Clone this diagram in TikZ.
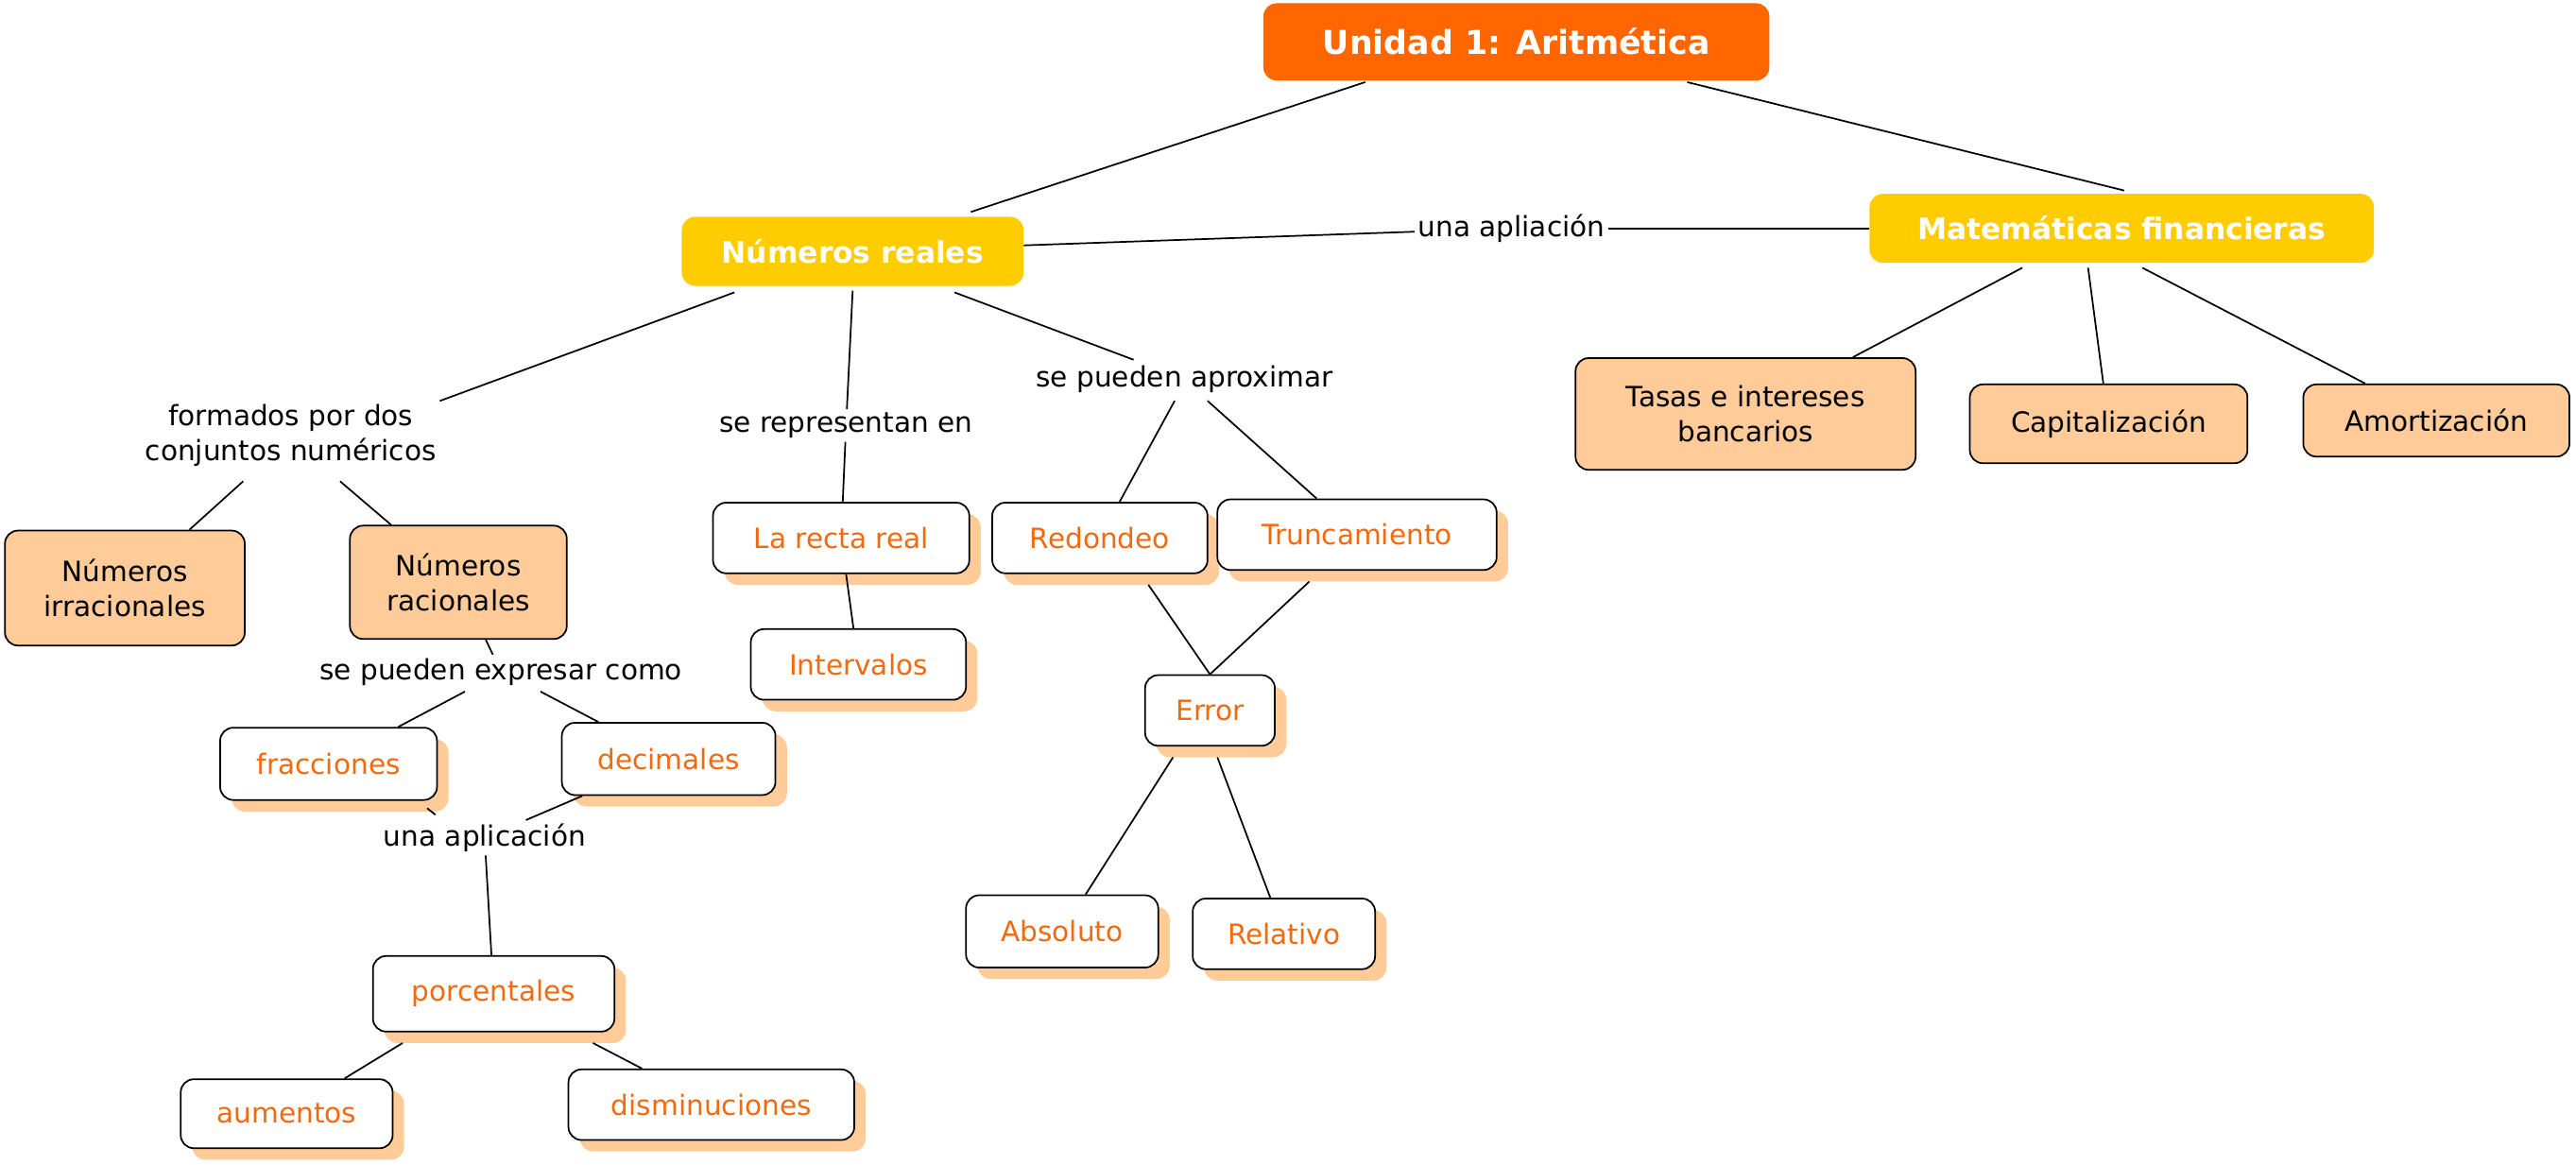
\documentclass[tikz,border=0pt]{standalone}
\usepackage{fontspec}
\setmainfont{DejaVu Sans}
\usetikzlibrary{shadows}
\definecolor{orng}{HTML}{FF6600}
\definecolor{gold}{HTML}{FFCC00}
\definecolor{peach}{HTML}{FFCC99}
\definecolor{otext}{HTML}{F26A0F}
\begin{document}
\begin{tikzpicture}[x=1pt,y=-1pt,font=\fontsize{17}{21}\selectfont,
 box/.style={rounded corners=8pt,align=center,inner sep=0pt},
 top/.style={box,fill=orng,text=white,font=\fontsize{20}{24}\selectfont\bfseries},
 yel/.style={box,fill=gold,text=white,font=\fontsize{18}{22}\selectfont\bfseries},
 pch/.style={box,fill=peach,draw=black,line width=1pt},
 wht/.style={box,fill=white,draw=black,line width=1pt,text=otext,
   drop shadow={shadow xshift=7pt,shadow yshift=-7pt,fill=peach,opacity=1}},
 lab/.style={fill=white,inner sep=2pt,align=center},
 ln/.style={line width=1pt}]
\useasboundingbox (0,0) rectangle (1568,709);
\node[top,minimum width=308,minimum height=47] (u) at (923,25.5) {Unidad 1: Aritmética};
\node[yel,minimum width=208,minimum height=42] (nr) at (519,153) {Números reales};
\node[yel,minimum width=307,minimum height=42] (mf) at (1291.5,139) {Matemáticas financieras};
\node[pch,minimum width=207,minimum height=68] (ta) at (1062.5,252) {Tasas e intereses\\bancarios};
\node[pch,minimum width=169,minimum height=48] (ca) at (1283.5,258) {Capitalización};
\node[pch,minimum width=162,minimum height=44] (am) at (1483,256) {Amortización};
\node[pch,minimum width=146,minimum height=70] (ir) at (76,358) {Números\\irracionales};
\node[pch,minimum width=132,minimum height=69] (ra) at (279,354.5) {Números\\racionales};
\node[wht,minimum width=156,minimum height=43] (rr) at (512,327.5) {La recta real};
\node[wht,minimum width=131,minimum height=43] (iv) at (522.5,404.5) {Intervalos};
\node[wht,minimum width=131,minimum height=43] (re) at (669.5,327.5) {Redondeo};
\node[wht,minimum width=170,minimum height=43] (tr) at (826,325.5) {Truncamiento};
\node[wht,minimum width=79,minimum height=43] (er) at (736.5,432.5) {Error};
\node[wht,minimum width=117,minimum height=44] (ab) at (646.5,567) {Absoluto};
\node[wht,minimum width=111,minimum height=43] (rl) at (781.5,568.5) {Relativo};
\node[wht,minimum width=132,minimum height=44] (fr) at (200,465) {fracciones};
\node[wht,minimum width=130,minimum height=44] (de) at (407,462) {decimales};
\node[wht,minimum width=147,minimum height=46] (po) at (300.5,605) {porcentales};
\node[wht,minimum width=129,minimum height=42] (au) at (174.5,678) {aumentos};
\node[wht,minimum width=174,minimum height=43] (di) at (433,672.5) {disminuciones};
\node[lab] (l1) at (920,139) {una apliación};
\node[lab] (l2) at (177,265) {formados por dos\\conjuntos numéricos};
\node[lab] (l3) at (515,259) {se representan en};
\node[lab] (l4) at (721,231) {se pueden aproximar};
\node[lab] (l5) at (305,409) {se pueden expresar como};
\node[lab] (l6) at (295,510) {una aplicación};
\draw[ln] (831,50) -- (591,129);
\draw[ln] (1027,50) -- (1293,116);
\draw[ln] (nr) -- (l1); \draw[ln] (l1) -- (mf);
\draw[ln] (447,178) -- (l2.north east); \draw[ln] (148,293) -- (ir); \draw[ln] (207,293) -- (ra);
\draw[ln] (519,177) -- (l3); \draw[ln] (l3) -- (rr);
\draw[ln] (rr) -- (iv);
\draw[ln] (581,178) -- (690,219); \draw[ln] (715,244) -- (re); \draw[ln] (735,244) -- (tr);
\draw[ln] (699,356) -- (er.north); \draw[ln] (797,354) -- (er.north);
\draw[ln] (714,461) -- (ab); \draw[ln] (741,461) -- (rl);
\draw[ln] (1231,163) -- (ta); \draw[ln] (1271,163) -- (ca); \draw[ln] (1304,163) -- (am);
\draw[ln] (ra) -- (l5); \draw[ln] (283,421) -- (fr); \draw[ln] (329,421) -- (de);
\draw[ln] (de) -- (l6); \draw[ln] (260,492) -- (265,496); \draw[ln] (l6) -- (po);
\draw[ln] (245,635) -- (au); \draw[ln] (361,635) -- (di);
\end{tikzpicture}
\end{document}
